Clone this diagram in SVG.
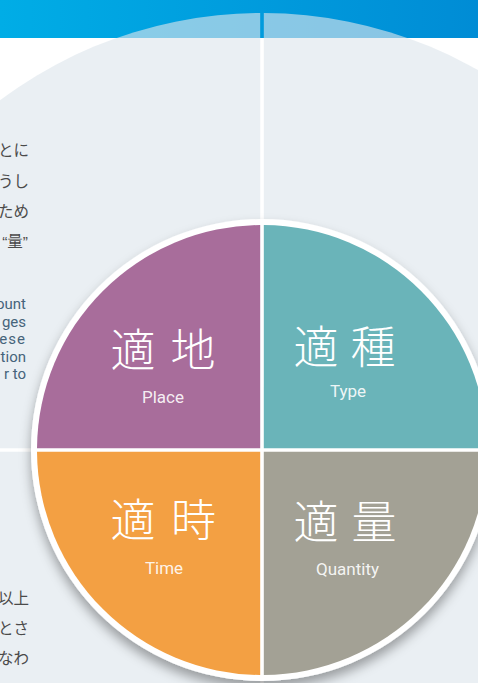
<svg xmlns="http://www.w3.org/2000/svg" width="478" height="683" viewBox="0 0 478 683">
  <style>
    .bg { fill: #dde5eb; fill-opacity: 0.62; }
    .jp { font-family: "Noto Sans CJK JP", "Noto Sans", sans-serif; font-size: 15.5px; fill: #4a4a4a; }
    .en { font-family: Roboto, "Liberation Sans", sans-serif; font-size: 15px; fill: #46647b; }
    .big { font-family: "Noto Sans CJK JP", sans-serif; font-size: 45px; font-weight: 300; fill: #ffffff; }
    .lab { font-family: Roboto, "Liberation Sans", sans-serif; font-size: 17px; fill: #ffffff; fill-opacity: 0.9; text-anchor: middle; }
  </style>
  <defs>
    <linearGradient id="bar" x1="0" y1="0" x2="1" y2="0">
      <stop offset="0" stop-color="#00ade6"/>
      <stop offset="1" stop-color="#008cd5"/>
    </linearGradient>
    <filter id="sh" x="-20%" y="-20%" width="140%" height="140%">
      <feDropShadow dx="0" dy="7" stdDeviation="6" flood-color="#000" flood-opacity="0.35"/>
    </filter>
  </defs>
  <rect width="478" height="683" fill="#ffffff"/>
  <rect x="0" y="0" width="478" height="38" fill="url(#bar)"/>
  <g id="background-circle">
    <path class="bg" d="M260.2 448.2 L-175 448.2 A437 437 0 0 1 260.2 13 Z"/>
    <path class="bg" d="M263.8 448.2 L263.8 13 A437 437 0 0 1 699 448.2 Z"/>
    <path class="bg" d="M263.8 451.8 L699 451.8 A437 437 0 0 1 263.8 887 Z"/>
    <path class="bg" d="M260.2 451.8 L260.2 887 A437 437 0 0 1 -175 451.8 Z"/>
  </g>
  <g id="side-text">
    <text class="jp" text-anchor="end" x="29" y="156">とに</text>
    <text class="jp" text-anchor="end" x="29" y="187">うし</text>
    <text class="jp" text-anchor="end" x="29" y="217">ため</text>
    <text class="jp" text-anchor="end" x="28" y="247"><tspan font-family="'Liberation Sans', sans-serif">“</tspan>量<tspan font-family="'Liberation Sans', sans-serif">”</tspan></text>
    <text class="en" text-anchor="end" x="26" y="309">ount</text>
    <text class="en" text-anchor="end" x="26" y="326.5">ges</text>
    <text class="en" text-anchor="end" x="26" y="344" letter-spacing="1">ese</text>
    <text class="en" text-anchor="end" x="26" y="361.5">tion</text>
    <text class="en" text-anchor="end" x="26" y="379">r to</text>
    <text class="jp" text-anchor="end" x="29" y="604">以上</text>
    <text class="jp" text-anchor="end" x="29" y="634">とさ</text>
    <text class="jp" text-anchor="end" x="29" y="664">なわ</text>
  </g>
  <circle cx="262" cy="450" r="231" fill="#ffffff" filter="url(#sh)"/>
  <g id="place">
    <path d="M260.2 448.2 L37 448.2 A225 225 0 0 1 260.2 225 Z" fill="#a86d9b"/>
    <text class="big" x="110.5 170.5" y="367">適地</text>
    <text class="lab" x="163" y="403">Place</text>
  </g>
  <g id="type">
    <path d="M263.8 448.2 L263.8 225 A225 225 0 0 1 487 448.2 Z" fill="#6ab4b9"/>
    <text class="big" x="293.5 350.5" y="364">適種</text>
    <text class="lab" x="348" y="397">Type</text>
  </g>
  <g id="time">
    <path d="M260.2 451.8 L260.2 675 A225 225 0 0 1 37 451.8 Z" fill="#f3a043"/>
    <text class="big" x="110.5 171" y="537">適時</text>
    <text class="lab" x="164" y="574">Time</text>
  </g>
  <g id="quantity">
    <path d="M263.8 451.8 L487 451.8 A225 225 0 0 1 263.8 675 Z" fill="#a3a195"/>
    <text class="big" x="293.5 351.5" y="539">適量</text>
    <text class="lab" x="347.5" y="575">Quantity</text>
  </g>
</svg>
